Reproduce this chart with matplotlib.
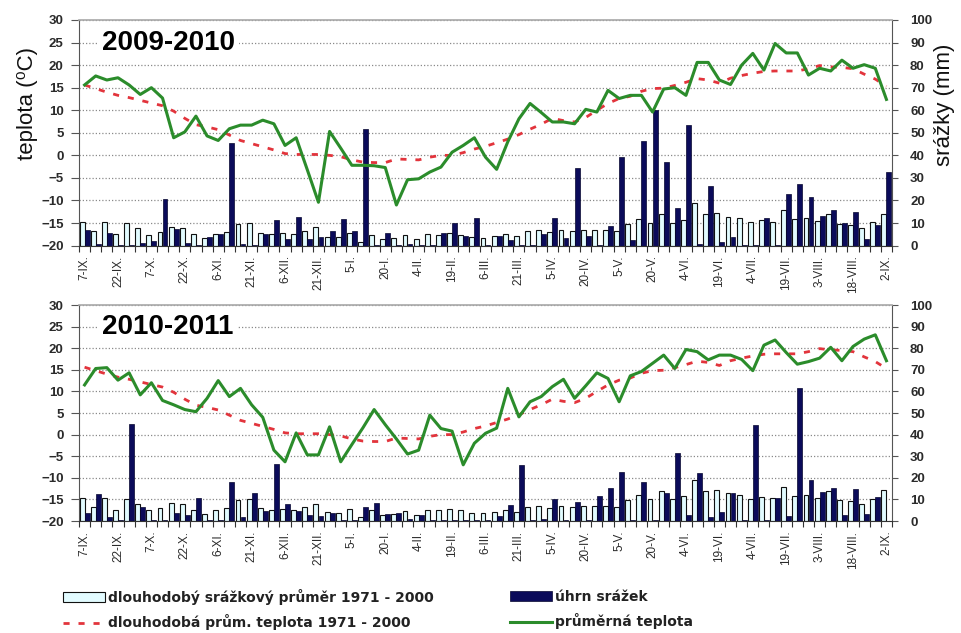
import numpy as np
import matplotlib
matplotlib.use('Agg')
import matplotlib.pyplot as plt

plt.rcParams['font.family'] = ['Liberation Sans', 'DejaVu Sans']

# ---------------- data ----------------
tick_labels = ["7-IX.", "22-IX.", "7-X.", "22-X.", "6-XI.", "21-XI.", "6-XII.", "21-XII.",
               "5-I.", "20-I.", "4-II.", "19-II.", "6-III.", "21-III.", "5-IV.", "20-IV.",
               "5-V.", "20-V.", "4-VI.", "19-VI.", "4-VII.", "19-VII.", "3-VIII.", "18-VIII.", "2-IX."]

# long-term mean temperature 1971-2000 (5-day periods)
normal_temp = [15.6, 14.8, 14.0, 13.3, 12.8, 12.2, 11.6, 11.0, 9.8, 8.2,
               6.8, 6.3, 5.7, 4.5, 3.3, 2.6, 1.9, 1.2, 0.4, 0.2,
               0.2, 0.2, 0.0, -0.3, -1.0, -1.5, -1.6, -1.6, -0.8, -0.9,
               -1.0, -0.4, 0.0, 0.0, 0.6, 1.4, 2.0, 2.8, 3.6, 4.6,
               5.8, 6.9, 8.2, 7.7, 7.4, 8.4, 10.0, 11.5, 12.6, 13.1,
               14.2, 14.8, 14.9, 15.5, 16.2, 17.0, 16.7, 16.0, 17.1, 17.7,
               18.2, 18.6, 18.7, 18.7, 18.7, 19.2, 19.9, 19.6, 19.5, 19.2,
               18.0, 16.9, 15.3]

# long-term mean precipitation 1971-2000 (mm)
normal_precip = [10.5, 6.4, 10.5, 5.0, 10.1, 7.8, 4.9, 6.2, 8.4, 7.7,
                 5.2, 3.4, 5.2, 6.0, 9.5, 10.1, 5.8, 5.0, 5.4, 5.0,
                 6.5, 8.1, 4.0, 3.8, 5.6, 1.8, 4.9, 3.0, 3.4, 4.7,
                 2.8, 5.0, 4.9, 5.4, 4.9, 3.6, 3.5, 4.1, 5.0, 4.1,
                 6.4, 7.0, 6.0, 7.0, 6.3, 7.0, 7.0, 7.0, 6.5, 9.6,
                 11.9, 10.0, 14.0, 10.1, 11.5, 18.9, 14.1, 14.5, 12.8, 12.2,
                 10.3, 11.2, 10.5, 15.7, 11.8, 12.2, 10.8, 14.1, 9.6, 9.3,
                 7.8, 10.3, 14.2]

# 2009-2010
temp_0910 = [15.6, 17.6, 16.7, 17.2, 15.6, 13.5, 15.0, 12.7, 3.9, 5.2,
             8.7, 4.3, 3.3, 5.9, 6.7, 6.7, 7.8, 7.0, 2.2, 3.9,
             -3.2, -10.4, 5.3, 1.6, -2.2, -2.2, -2.3, -2.7, -11.0, -5.4,
             -5.2, -3.7, -2.6, 0.7, 2.2, 3.9, -0.4, -3.1, 3.0, 8.1,
             11.5, 9.5, 7.4, 7.4, 7.0, 10.2, 9.6, 14.4, 12.6, 13.3,
             13.3, 9.6, 14.7, 15.0, 13.3, 20.6, 20.6, 16.7, 15.7, 20.0,
             22.6, 18.9, 24.8, 22.7, 22.7, 17.8, 19.3, 18.7, 21.1, 19.3,
             20.1, 19.3, 12.4]
precip_0910 = [6.9, 0.5, 5.7, 0.3, 0.3, 1.3, 2.2, 20.8, 7.2, 1.0,
               0.3, 3.7, 5.0, 45.6, 0.5, 0.3, 5.0, 11.3, 2.9, 12.5,
               2.9, 4.0, 6.6, 11.7, 6.6, 51.6, 0.3, 5.7, 0.3, 0.5,
               0.2, 0.3, 5.7, 9.9, 4.2, 12.1, 0.3, 4.4, 2.5, 0.3,
               0.3, 5.0, 12.1, 3.4, 34.3, 4.4, 0.3, 8.8, 39.4, 2.5,
               46.5, 60.1, 37.2, 16.5, 53.5, 0.5, 26.4, 1.8, 3.7, 0.2,
               0.2, 12.1, 0.3, 22.9, 27.3, 21.4, 13.3, 15.8, 10.2, 15.1,
               3.0, 9.2, 32.5]

# 2010-2011
temp_1011 = [11.5, 15.3, 15.5, 12.6, 14.3, 9.2, 12.0, 7.9, 6.9, 5.8,
             5.3, 8.4, 12.5, 8.8, 10.7, 6.9, 4.0, -3.6, -6.3, 0.4,
             -4.7, -4.7, 1.8, -6.3, -2.3, 1.6, 5.8, 2.3, -1.0, -4.5,
             -3.6, 4.5, 1.4, 0.8, -7.0, -2.0, 0.3, 1.5, 10.7, 4.1,
             7.6, 8.8, 11.1, 12.8, 8.4, 11.3, 14.3, 13.0, 7.6, 13.6,
             14.6, 16.5, 18.4, 15.3, 19.7, 19.2, 17.3, 18.4, 18.4, 17.4,
             14.8, 20.7, 21.9, 19.0, 16.3, 16.9, 17.7, 20.2, 17.1, 20.4,
             22.1, 23.1, 17.1]
precip_1011 = [3.9, 12.4, 1.7, 0.3, 45.0, 6.3, 0.3, 0.3, 3.6, 2.8,
               10.5, 0.3, 0.3, 18.2, 2.0, 13.1, 4.6, 26.4, 7.9, 4.8,
               2.8, 2.3, 3.6, 0.3, 0.3, 6.6, 8.5, 3.2, 3.6, 0.8,
               2.8, 0.3, 0.3, 0.3, 0.3, 0.3, 0.3, 2.3, 7.4, 26.0,
               0.3, 0.9, 10.2, 0.3, 8.7, 0.3, 11.6, 15.5, 22.9, 0.3,
               18.2, 0.3, 13.1, 31.4, 2.8, 22.1, 1.7, 4.3, 12.8, 0.3,
               44.5, 0.3, 10.8, 2.3, 61.5, 18.8, 13.6, 15.4, 2.8, 14.8,
               3.2, 11.3, 0.0]

# ---------------- figure ----------------
W, H = 962, 633
fig = plt.figure(figsize=(W / 100, H / 100), dpi=100)
fig.patch.set_facecolor('white')

TICK_COLOR = '#2a2a2a'
GREEN = '#2b8c2b'
RED = '#e2343c'
NAVY = '#0b0b5a'
LIGHT = '#e2fbff'


def frac_rect(x0, y_top, x1, y_bot):
    return [x0 / W, 1 - y_bot / H, (x1 - x0) / W, (y_bot - y_top) / H]


def panel(rect, title, temp, precip):
    ax = fig.add_axes(rect)
    ax2 = ax.twinx()
    ax.set_zorder(2)
    ax2.set_zorder(1)
    ax.patch.set_visible(False)

    x = np.arange(len(temp))
    bw = 0.44
    b1 = ax2.bar(x - 0.225, normal_precip, bw, color=LIGHT, edgecolor='#111111',
                 linewidth=0.8, zorder=3)
    b2 = ax2.bar(x + 0.225, precip, bw, color=NAVY, edgecolor='#06062e',
                 linewidth=0.5, zorder=3)
    l1, = ax.plot(x, normal_temp, color=RED, lw=2.0, ls=(0, (2.2, 3.2)), zorder=4)
    l2, = ax.plot(x, temp, color=GREEN, lw=2.2, zorder=5)

    ax.set_xlim(-0.5, len(temp) - 0.5)
    ax.set_ylim(-20, 30)
    ax2.set_ylim(0, 100)

    ax.set_yticks(np.arange(-20, 31, 5))
    ax2.set_yticks(np.arange(0, 101, 10))
    ax2.yaxis.grid(True, linestyle=(0, (1, 1.6)), color='#8a8a8a', lw=0.9)
    ax2.set_axisbelow(True)

    ax.set_xticks(np.arange(0, len(temp), 3))
    ax.set_xticklabels(tick_labels, rotation=90, fontsize=8.5, color=TICK_COLOR)
    ax.set_xticks(np.arange(-0.5, len(temp), 1), minor=True)
    ax.tick_params(axis='x', which='major', length=0, pad=7)
    ax.tick_params(axis='x', which='minor', length=4, direction='out',
                   color='#333333', width=0.8)
    ax.tick_params(axis='y', length=6, width=0.8, color='#555555', pad=5,
                   labelsize=9.5, labelcolor=TICK_COLOR)
    ax2.tick_params(axis='y', length=4, width=0.8, color='#555555', pad=9,
                    labelsize=9.5, labelcolor=TICK_COLOR)
    for lab in ax.get_yticklabels() + ax2.get_yticklabels():
        lab.set_fontweight('bold')

    ax.spines['top'].set_color('#a8a8a8')
    ax.spines['top'].set_linewidth(1.2)
    ax.spines['left'].set_color('#555555')
    ax.spines['bottom'].set_color('#333333')
    ax.spines['right'].set_visible(False)
    for s in ('top', 'left', 'bottom'):
        ax2.spines[s].set_visible(False)
    ax2.spines['right'].set_color('#555555')

    ax.text(0.028, 0.9, title, transform=ax.transAxes, fontsize=20,
            fontweight='bold', va='center', ha='left', zorder=10,
            bbox=dict(facecolor='white', edgecolor='none', pad=3))
    return ax, ax2, b1, b2, l1, l2


ax_a, ax_a2, b1, b2, l1, l2 = panel(frac_rect(79, 20, 892, 245.6), '2009-2010',
                                    temp_0910, precip_0910)
ax_b, ax_b2, *_ = panel(frac_rect(79, 305, 892, 521), '2010-2011',
                        temp_1011, precip_1011)

fig.text(27 / W, 1 - 103 / H, 'teplota (\u2070C)', rotation=90, fontsize=16,
         ha='center', va='center', color='#111111')
fig.text(945 / W, 1 - 105 / H, 'srážky (mm)', rotation=90, fontsize=16,
         ha='center', va='center', color='#111111')

leg_font = dict(family=['DejaVu Sans'], weight='bold', size=10)
fig.legend([b1, l1], ['dlouhodobý srážkový průměr 1971 - 2000',
                      'dlouhodobá prům. teplota 1971 - 2000'],
           loc='center left', bbox_to_anchor=(56 / W, 1 - 609.5 / H),
           frameon=False, handlelength=3.0, handletextpad=0.25,
           labelspacing=0.7, borderpad=0, prop=leg_font, labelcolor='#222222')
fig.legend([b2, l2], ['úhrn srážek', 'průměrná teplota'],
           loc='center left', bbox_to_anchor=(503 / W, 1 - 609.5 / H),
           frameon=False, handlelength=3.0, handletextpad=0.25,
           labelspacing=0.7, borderpad=0, prop=leg_font, labelcolor='#222222')

fig.savefig('out.png', dpi=100, facecolor='white')
